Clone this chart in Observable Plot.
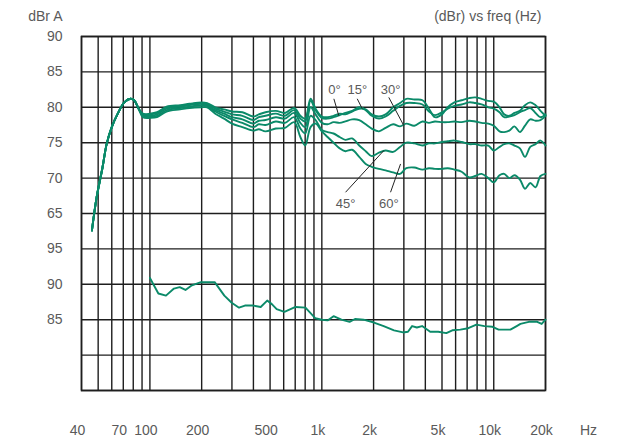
<!DOCTYPE html>
<html>
<head>
<meta charset="utf-8">
<script src="https://cdn.jsdelivr.net/npm/d3@7"></script>
<script src="https://cdn.jsdelivr.net/npm/@observablehq/plot@0.6"></script>
<style>
  html, body { margin: 0; padding: 0; background: #fff; }
  #chart { width: 627px; height: 443px; }
</style>
</head>
<body>
<div id="chart"></div>
<script>
// ---- Data (frequency in Hz, level in dBr) ----
const freqs = [46,49,53,56,60,65,71,77,81,86,91,100,110,125,150,170,200,215,240,270,300,345,400,430,470,540,610,690,750,800,860,920,
  1000,1080,1170,1270,1370,1500,1650,1800,1950,2150,2350,2600,2850,3100,3450,3850,4200,4550,5000,5400,5900,6500,7200,7800,8500,9300,10000,10800,11500,12300,13200,14200,15200,16300,17500,18700,20000];

const deg0 = [62.6,67.3,71.5,74.8,77.2,79.1,80.7,81.2,81.0,79.8,79.1,79.1,79.3,80.1,80.3,80.5,80.7,80.6,80.0,79.7,79.4,79.3,78.7,79.0,79.3,79.5,79.2,79.9,78.8,78.4,81.2,79.8,
  78.7,78.6,78.8,79.1,79.0,79.4,79.8,79.7,79.0,78.7,79.0,80.0,80.6,81.2,81.1,81.0,79.8,78.6,79.0,80.0,80.7,81.0,81.3,81.4,81.2,80.9,80.8,80.0,79.0,78.8,79.2,79.5,80.3,80.7,80.3,79.5,78.8];
const deg15 = [62.6,67.3,71.5,74.8,77.2,79.1,80.7,81.2,81.0,79.8,79.0,79.0,79.2,80.0,80.2,80.4,80.6,80.5,79.8,79.4,79.0,78.8,78.2,78.6,78.8,79.1,78.8,79.6,78.4,78.0,80.9,79.6,
  78.5,78.4,78.6,78.9,79.2,79.5,80.0,79.6,78.8,78.4,78.7,79.5,80.2,80.6,80.6,80.4,79.4,78.9,79.3,79.8,80.2,80.4,80.7,80.6,80.4,80.0,79.8,79.3,78.6,78.7,78.9,79.3,79.6,79.9,79.2,78.6,79.0];
const deg30 = [62.6,67.3,71.5,74.8,77.2,79.1,80.7,81.2,81.0,79.8,78.9,78.8,79.0,79.8,80.1,80.3,80.5,80.3,79.6,79.1,78.6,78.3,77.7,78.1,78.2,78.6,78.4,79.2,77.8,77.2,80.0,79.0,
  77.8,77.6,77.9,77.8,78.0,78.3,78.2,77.6,77.0,76.6,77.1,77.6,77.3,77.7,77.4,78.0,77.8,78.0,77.9,77.9,78.0,77.9,78.1,78.0,77.8,77.7,77.4,76.6,76.5,76.7,77.3,76.5,77.4,78.3,78.1,78.2,78.8];
const deg45 = [62.6,67.3,71.5,74.8,77.2,79.1,80.7,81.2,81.0,79.8,78.8,78.7,78.8,79.6,79.9,80.1,80.3,80.2,79.4,78.8,78.3,77.8,77.2,77.6,77.5,78.0,77.8,78.6,77.0,76.3,78.8,78.2,
  76.8,76.5,76.3,75.8,75.4,75.6,74.6,73.8,73.1,73.6,73.9,73.7,74.4,75.0,74.9,74.6,74.9,74.9,75.1,75.2,75.3,75.1,74.8,74.8,74.6,74.6,73.9,74.4,74.8,74.9,74.6,74.2,73.0,74.4,74.8,75.3,74.6];
const deg60 = [62.6,67.3,71.5,74.8,77.2,79.1,80.7,81.2,81.0,79.8,78.6,78.5,78.6,79.4,79.7,79.9,80.0,80.0,79.1,78.4,77.7,77.2,76.7,76.9,76.6,77.0,77.1,77.9,75.8,74.6,77.2,77.7,
  76.6,75.8,75.0,74.2,73.8,74.0,73.0,72.0,71.6,71.3,71.1,70.8,70.6,71.4,71.5,71.2,71.4,71.3,71.3,71.4,71.2,70.9,70.1,70.3,70.6,70.0,69.4,70.4,70.6,70.0,70.4,69.8,68.5,69.3,68.7,70.3,70.6];

// lower curve, read on the lower scale (95 / 90 / 85)
const lowerFreqs = [100,112,124,138,149,161,174,198,238,271,299,330,357,397,441,481,512,546,606,703,803,918,1000,1080,1170,1300,1450,1560,1750,2010,2290,2630,2970,3170,3350,3570,3830,4270,4750,5300,5740,6390,7110,7930,8830,9840,10670,12500,13600,14300,16000,17900,19000,20000];
const lowerLevels = [90.9,88.7,88.4,89.4,89.6,89.2,89.8,90.3,90.3,88.4,87.4,86.7,87.0,87.0,86.8,87.7,87.2,86.5,86.1,86.8,86.7,85.2,85.0,84.9,85.5,85.0,84.7,85.1,85.0,84.6,84.1,83.5,83.2,83.3,84.1,83.9,84.1,83.3,83.3,83.1,83.5,83.6,83.8,84.3,84.1,84.0,83.6,83.6,84.1,84.4,84.7,84.7,84.4,85.0];
const lowerOffset = 35; // lower scale 95 sits where the upper scale reads 60

// grid and tick labels
const gridFreqs = [40,50,60,70,80,90,100,200,300,400,500,600,700,800,900,1000,2000,3000,4000,5000,6000,7000,8000,9000,10000,20000];
const gridLevels = [40,45,50,55,60,65,70,75,80,85,90];
const xTickValues = [40,70,100,200,500,1000,2000,5000,10000,20000];
const xTickLabels = ["40","70","100","200","500","1k","2k","5k","10k","20k"];
const yTickValues = [90,85,80,75,70,65,60,55,50];
const yTickLabels = ["90","85","80","75","70","65","95","90","85"];

// angle annotations: label position and leader line (freq, dB on the upper scale)
const annotLabels = ["0°","15°","30°","45°","60°"];
const annotLabelF = [1185,1607,2510,1374,2452];
const annotLabelV = [82.4,82.4,82.4,66.4,66.4];
const leaderF1 = [1175,1607,2452,1374,2510];
const leaderV1 = [81.2,81.2,81.4,68.0,68.0];
const leaderF2 = [1256,1718,3000,2295,2870];
const leaderV2 = [78.8,79.8,77.4,73.9,72.0];

// ---- Build tables ----
const seriesNames = ["0°","15°","30°","45°","60°"];
const seriesValues = [deg0, deg15, deg30, deg45, deg60];
const curves = [];
seriesValues.forEach((vals, s) => vals.forEach((v, i) => curves.push({series: seriesNames[s], f: freqs[i], v})));
const lower = lowerFreqs.map((f, i) => ({f, v: lowerLevels[i] - lowerOffset}));
const annots = annotLabels.map((t, i) => ({
  t, lf: annotLabelF[i], lv: annotLabelV[i],
  f1: leaderF1[i], v1: leaderV1[i], f2: leaderF2[i], v2: leaderV2[i]
}));
const xLabel = new Map(xTickValues.map((v, i) => [v, xTickLabels[i]]));
const yLabel = new Map(yTickValues.map((v, i) => [v, yTickLabels[i]]));

const green = "#0b8a69";
const gridColor = "#1e1e1e";
const textColor = "#5a5a5a";

const chart = Plot.plot({
  width: 627,
  height: 443,
  marginLeft: 81,
  marginRight: 82,
  marginTop: 36,
  marginBottom: 53,
  x: {type: "log", domain: [40, 20000], axis: null},
  y: {domain: [40, 90], axis: null},
  style: {fontFamily: "'Liberation Sans', Arial, sans-serif", fontSize: "14px", background: "#fff", color: textColor},
  marks: [
    Plot.ruleX(gridFreqs, {stroke: gridColor, strokeWidth: 1.4}),
    Plot.ruleY(gridLevels, {stroke: gridColor, strokeWidth: 1.4}),
    Plot.frame({stroke: gridColor, strokeWidth: 1.6}),
    Plot.text(xTickValues, {x: d => d, text: d => xLabel.get(d), frameAnchor: "bottom", lineAnchor: "middle", textAnchor: "middle", dy: 40, dx: -4, fill: textColor, fontSize: 14}),
    Plot.text(yTickValues, {y: d => d, text: d => yLabel.get(d), frameAnchor: "left", lineAnchor: "middle", textAnchor: "end", dx: -19, fill: textColor, fontSize: 14}),
    Plot.text(["Hz"], {frameAnchor: "bottom-right", textAnchor: "middle", lineAnchor: "middle", dx: 43, dy: 40, fill: textColor, fontSize: 14}),
    Plot.text(["dBr A"], {frameAnchor: "top-left", dx: -19, dy: -20, textAnchor: "end", lineAnchor: "middle", fill: textColor, fontSize: 14}),
    Plot.text(["(dBr) vs freq (Hz)"], {frameAnchor: "top-right", dx: -4, dy: -20, textAnchor: "end", lineAnchor: "middle", fill: textColor, fontSize: 14}),
    Plot.line(curves, {x: "f", y: "v", z: "series", stroke: green, strokeWidth: 1.9, curve: "catmull-rom"}),
    Plot.line(lower, {x: "f", y: "v", stroke: green, strokeWidth: 1.9}),
    Plot.link(annots, {x1: "f1", y1: "v1", x2: "f2", y2: "v2", stroke: "#222", strokeWidth: 1}),
    Plot.text(annots, {x: "lf", y: "lv", text: "t", fill: textColor, fontSize: 13, stroke: "#fff", strokeWidth: 3, paintOrder: "stroke"})
  ]
});
document.getElementById("chart").appendChild(chart);
</script>
</body>
</html>
